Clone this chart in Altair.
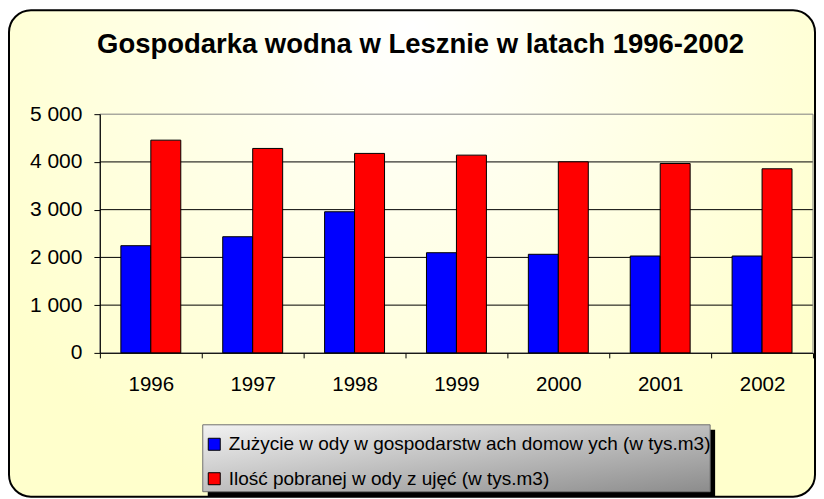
import altair as alt
import pandas as pd

years = ["1996", "1997", "1998", "1999", "2000", "2001", "2002"]
series_names = [
    "Zużycie w ody w  gospodarstw ach domow ych (w  tys.m3)",
    "Ilość pobranej w ody z ujęć  (w  tys.m3)",
]
household = [2245, 2433, 2956, 2098, 2065, 2029, 2029]
intake = [4456, 4282, 4178, 4142, 4002, 3967, 3856]
y_ticks = [0, 1000, 2000, 3000, 4000, 5000]
grid_values = [1000, 2000, 3000, 4000]
colors = ["#0000FF", "#FF0000"]

rows = []
for i, yr in enumerate(years):
    rows.append({"year": yr, "series": series_names[0], "value": household[i]})
    rows.append({"year": yr, "series": series_names[1], "value": intake[i]})
df = pd.DataFrame(rows)
grid_df = pd.DataFrame({"value": grid_values})
one = pd.DataFrame({"k": [0]})

FONT = "Liberation Sans"
W, H = 714, 239
yscale = alt.Scale(domain=[0, 5000], nice=False)
yaxis = alt.Axis(
    title=None, values=y_ticks,
    labelExpr="replace(format(datum.value, ','), ',', ' ')",
    tickSize=6, labelPadding=12, labelFontSize=21, labelFont=FONT,
    labelColor="black", domainColor="black", tickColor="black",
    grid=False, zindex=1,
)

bg_grad = alt.RadialGradient(
    gradient="radial",
    x1=0.5, y1=0.22, r1=0,
    x2=0.5, y2=0.22, r2=0.62,
    stops=[alt.GradientStop(offset=0, color="#FFFFFF"),
           alt.GradientStop(offset=1, color="#FFFFCC")],
)
legend_grad = alt.LinearGradient(
    gradient="linear", x1=0, y1=0, x2=1, y2=1,
    stops=[alt.GradientStop(offset=0, color="#F2F2F2"),
           alt.GradientStop(offset=1, color="#8C8C8C")],
)

frame = alt.Chart(one).mark_rect(
    fill=bg_grad, stroke="black", strokeWidth=2, cornerRadius=22
).encode(x=alt.value(-91), x2=alt.value(716), y=alt.value(-104), y2=alt.value(383))

grid = alt.Chart(grid_df).mark_rule(color="black", strokeWidth=1).encode(
    y=alt.Y("value:Q", scale=yscale, axis=yaxis)
)

border = alt.Chart(one).mark_rect(
    fillOpacity=0, stroke="#808080", strokeWidth=1
).encode(x=alt.value(0), x2=alt.value(W), y=alt.value(0), y2=alt.value(H))

shadow = alt.Chart(one).mark_rect(color="black").encode(
    x=alt.value(108), x2=alt.value(616), y=alt.value(316), y2=alt.value(383)
)
legbox = alt.Chart(one).mark_rect(
    fill=legend_grad, stroke="#707070", strokeWidth=1
).encode(x=alt.value(103), x2=alt.value(611), y=alt.value(311), y2=alt.value(378))

bars = alt.Chart(df).mark_bar(stroke="black", strokeWidth=1).encode(
    x=alt.X(
        "year:N",
        sort=years,
        scale=alt.Scale(paddingInner=0, paddingOuter=0),
        axis=alt.Axis(
            title=None, labelAngle=0, tickBand="extent", tickSize=5,
            labelPadding=17, labelFontSize=20.5, labelFont=FONT, labelColor="black",
            domainColor="black", tickColor="black", grid=False, zindex=1,
        ),
    ),
    xOffset=alt.XOffset(
        "series:N", sort=series_names,
        scale=alt.Scale(paddingInner=0, paddingOuter=0.7),
    ),
    y=alt.Y("value:Q", scale=yscale, axis=yaxis),
    color=alt.Color(
        "series:N",
        scale=alt.Scale(domain=series_names, range=colors),
        legend=alt.Legend(
            title=None, orient="none", legendX=100, legendY=316,
            direction="vertical", padding=5, rowPadding=14.5,
            symbolType="square", symbolSize=144, symbolStrokeColor="black",
            symbolStrokeWidth=1, symbolOpacity=1,
            labelFontSize=19, labelFont=FONT, labelColor="black",
            labelOffset=5, labelLimit=0, zindex=1,
        ),
    ),
)

chart = alt.layer(frame, grid, border, shadow, legbox, bars).properties(
    width=W,
    height=H,
    padding={"left": 92, "top": 106, "right": 3, "bottom": 146},
    autosize=alt.AutoSizeParams(type="none"),
    title=alt.Title(
        "Gospodarka wodna w Lesznie w latach 1996-2002",
        font=FONT, fontSize=27.5, fontWeight="bold", color="black",
        anchor="middle", frame="group", baseline="alphabetic",
        offset=0, dx=-36, dy=71,
    ),
).configure_view(stroke=None).configure(background="white")

chart.save("out.html", embed_options={"renderer": "svg", "actions": False})
